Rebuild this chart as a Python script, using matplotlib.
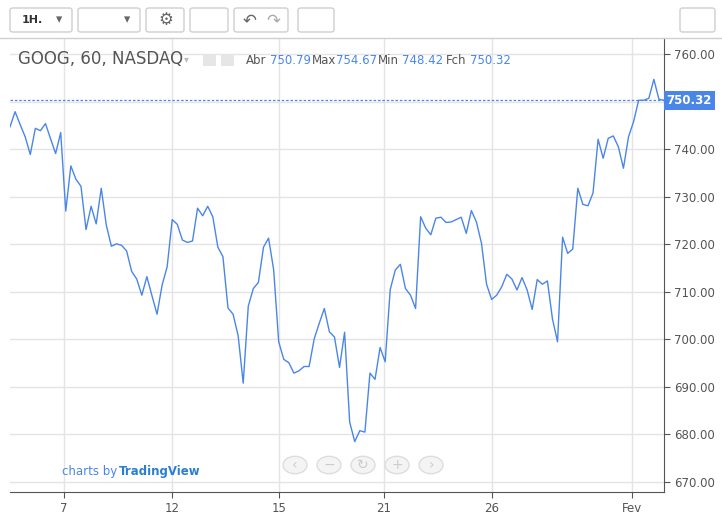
import matplotlib
matplotlib.use("Agg")
import matplotlib.pyplot as plt
from matplotlib.patches import Rectangle, FancyBboxPatch, Circle

prices = [744.7, 747.9, 745.2, 742.6, 738.9, 744.4, 743.9, 745.4, 742.2, 739.1, 743.5, 727.0,
          736.5, 733.7, 732.2, 723.1, 728.0, 724.3, 731.8, 724.0, 719.6, 720.1, 719.8, 718.6,
          714.3, 712.7, 709.3, 713.2, 709.2, 705.3, 711.4, 715.3, 725.2, 724.2, 720.9, 720.4,
          720.7, 727.6, 726.0, 728.0, 725.8, 719.4, 717.4, 706.6, 705.3, 700.8, 690.8, 707.0,
          710.7, 712.0, 719.4, 721.3, 714.7, 699.5, 695.8, 695.1, 692.9, 693.4, 694.3, 694.3,
          700.1, 703.4, 706.5, 701.6, 700.5, 694.1, 701.5, 682.6, 678.5, 680.8, 680.5, 692.9,
          691.6, 698.3, 695.3, 710.5, 714.6, 715.8, 710.7, 709.3, 706.5, 725.8, 723.4, 722.0,
          725.5, 725.7, 724.6, 724.7, 725.2, 725.7, 722.3, 727.1, 724.7, 720.2, 711.6, 708.4,
          709.3, 711.1, 713.7, 712.7, 710.4, 713.0, 710.4, 706.3, 712.6, 711.6, 712.3, 704.3,
          699.5, 721.5, 718.1, 719.0, 731.8, 728.4, 728.1, 730.8, 742.1, 738.1, 742.3, 742.8,
          740.5, 736.0, 742.6, 745.8, 750.3, 750.3, 750.7, 754.7, 750.5, 750.3]
tick_labels = ["7", "12", "15", "21", "26", "Fev"]
tick_px = [64, 172, 279, 384, 492, 632]
yticks = [670, 680, 690, 700, 710, 720, 730, 740, 750, 760]
last_price = 750.32
header_labels = ["Abr", "Max", "Min", "Fch"]
header_values = ["750.79", "754.67", "748.42", "750.32"]
header_px = [(246, 270), (312, 336), (378, 402), (446, 470)]

W, H = 722, 524
fig = plt.figure(figsize=(7.22, 5.24), dpi=100)
fig.patch.set_facecolor("white")

x0, x1, ytop, ybot = 10, 664, 38, 492
ax = fig.add_axes([x0 / W, (H - ybot) / H, (x1 - x0) / W, (ybot - ytop) / H])
n = len(prices)
xs = list(range(n))
scale = (n - 1) / (664 - 10)
ax.set_xlim(0, (x1 - 10) * scale)
ax.set_ylim(667.9, 763.4)
ax.plot(xs, prices, color="#4a86e8", lw=1.0)
ax.axhline(last_price, color="#4a86e8", lw=0.9, ls=(0, (2, 1.5)))
ax.set_xticks([(p - 10) * scale for p in tick_px])
ax.set_xticklabels(tick_labels)
ax.set_yticks(yticks)
ax.set_yticklabels(["" if v == 750 else f"{v:.2f}" for v in yticks])
ax.yaxis.tick_right()
ax.grid(True, color="#e4e4e4", lw=1)
ax.set_axisbelow(True)
for s in ["top", "left"]:
    ax.spines[s].set_visible(False)
ax.spines["right"].set_color("#555555")
ax.spines["bottom"].set_color("#555555")
ax.tick_params(axis="both", colors="#555555", labelsize=8.5, length=4, labelcolor="#555555")
ax.text(1.004, (last_price - 667.9) / (763.4 - 667.9), "750.32", transform=ax.transAxes,
        ha="left", va="center", color="white", fontsize=8.5, fontweight="bold",
        bbox=dict(boxstyle="square,pad=0.25", fc="#4a86e8", ec="none"))

fig.text(18 / W, 1 - 59 / H, "GOOG, 60, NASDAQ", fontsize=12, color="#555555", va="center")
fig.text(184 / W, 1 - 59 / H, "▾", fontsize=7, color="#bbbbbb", va="center")
for bx in (203, 221):
    fig.patches.append(Rectangle((bx / W, 1 - 66 / H), 13 / W, 12 / H,
                                 transform=fig.transFigure, fc="#e6e6e6", ec="none"))
for lab, val, (lx, vx) in zip(header_labels, header_values, header_px):
    fig.text(lx / W, 1 - 61 / H, lab, fontsize=8.5, color="#555555", va="center")
    fig.text(vx / W, 1 - 61 / H, val, fontsize=8.5, color="#4a86e8", va="center")

# toolbar
fig.add_artist(plt.Line2D([0, 1], [1 - 38 / H] * 2, color="#d0d0d0", lw=1))
for (bx, bw) in [(10, 62), (78, 62), (146, 38), (190, 38), (234, 54), (298, 36), (680, 35)]:
    fig.patches.append(FancyBboxPatch((bx / W, 1 - 32 / H), bw / W, 24 / H,
                                      boxstyle="round,pad=0,rounding_size=0.004",
                                      transform=fig.transFigure, fc="white", ec="#cfcfcf", lw=1))
fig.text(22 / W, 1 - 20 / H, "1H.", fontsize=8, color="#333333", va="center", fontweight="bold")
fig.text(56 / W, 1 - 20 / H, "▾", fontsize=9, color="#666666", va="center")
fig.text(124 / W, 1 - 20 / H, "▾", fontsize=9, color="#666666", va="center")
fig.text(158 / W, 1 - 20 / H, "⚙", fontsize=12, color="#666666", va="center")
fig.text(243 / W, 1 - 20 / H, "↶", fontsize=12, color="#666666", va="center")
fig.text(266 / W, 1 - 20 / H, "↷", fontsize=12, color="#aaaaaa", va="center")

# bottom logo & nav
fig.text(62 / W, 1 - 472 / H, "charts by", fontsize=8.5, color="#4a86e8", va="center")
fig.text(119 / W, 1 - 472 / H, "TradingView", fontsize=8.5, color="#2a7fd4", va="center",
         fontweight="bold")
for i, c in enumerate(["‹", "−", "↻", "+", "›"]):
    cx = 295 + i * 34
    fig.patches.append(Circle((cx / W, 1 - 465 / H), 12 / W, transform=fig.transFigure,
                              fc="#f4f4f4", ec="#dddddd", lw=1))
    fig.text(cx / W, 1 - 465 / H, c, fontsize=10, color="#cccccc", ha="center", va="center")

fig.savefig("out.png", dpi=100)
